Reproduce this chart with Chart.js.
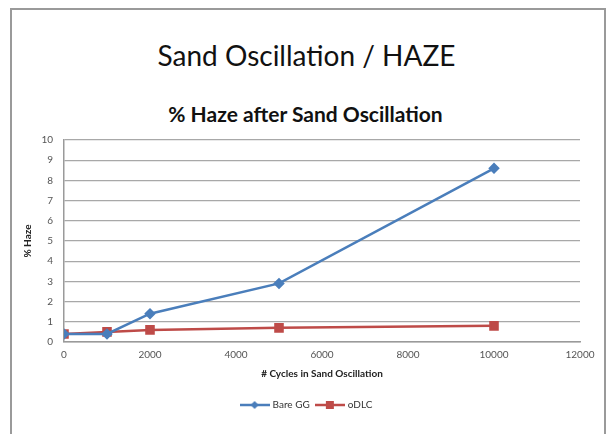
<!DOCTYPE html>
<html>
<head>
<meta charset="utf-8">
<script src="https://cdn.jsdelivr.net/npm/chart.js@4.4.1/dist/chart.umd.min.js"></script>
<style>
  html, body { margin: 0; padding: 0; background: #fff; }
  #frame { position: absolute; left: 10px; top: 8px; width: 596px; height: 450px; border: 2px solid #9a9a9a; border-bottom: none; box-sizing: border-box; }
  #wrap { position: absolute; left: 0; top: 0; width: 613px; height: 434px; }
  .head { position: absolute; left: 0; width: 613px; text-align: center; font-family: Lato, "Open Sans", sans-serif; color: #111; white-space: nowrap; }
  #mainTitle { top: 37px; height: 36px; line-height: 36px; font-size: 28px; }
  #chartTitle { top: 101px; height: 26px; line-height: 26px; font-size: 21px; font-weight: bold; left: -1px; }
</style>
</head>
<body>
<div id="frame"></div>
<div id="mainTitle" class="head">Sand Oscillation / HAZE</div>
<div id="chartTitle" class="head">% Haze after Sand Oscillation</div>
<div id="wrap"><canvas id="hazeChart" width="613" height="434"></canvas></div>
<script>
// --- Data ---
const cycles = [0, 1000, 2000, 5000, 10000];
const bareGG = [0.4, 0.4, 1.4, 2.9, 8.6];
const oDLC = [0.4, 0.5, 0.6, 0.7, 0.8];
const seriesNames = ['Bare GG', 'oDLC'];
const xTicks = [0, 2000, 4000, 6000, 8000, 10000, 12000];

const blue = '#4a7ebb';
const red = '#be4b48';
const font = 'Lato, "Open Sans", sans-serif';

// little line+marker swatches for the legend
function swatch(color, shape) {
    const c = document.createElement('canvas');
    c.width = 30; c.height = 10;
    const g = c.getContext('2d');
    g.strokeStyle = color; g.lineWidth = 2.5;
    g.beginPath(); g.moveTo(0, 5); g.lineTo(30, 5); g.stroke();
    g.fillStyle = color;
    if (shape === 'diamond') {
        g.beginPath(); g.moveTo(15, 1); g.lineTo(19, 5); g.lineTo(15, 9); g.lineTo(11, 5); g.closePath(); g.fill();
    } else {
        g.fillRect(11, 1, 8, 8);
    }
    return c;
}

const toPoints = (ys) => ys.map((y, i) => ({ x: cycles[i], y: y }));

// nudge the legend a bit right so it sits under the middle of the frame
const legendNudge = {
    id: 'legendNudge',
    afterLayout(chart) {
        chart.legend.left += 6;
        chart.legend.right += 6;
    }
};

new Chart(document.getElementById('hazeChart'), {
    type: 'line',
    data: {
        datasets: [
            { label: seriesNames[0], data: toPoints(bareGG), borderColor: blue, backgroundColor: blue, borderWidth: 2.5,
              pointStyle: 'rectRot', pointRadius: 4, pointHoverRadius: 4, tension: 0, legendImg: swatch(blue, 'diamond') },
            { label: seriesNames[1], data: toPoints(oDLC), borderColor: red, backgroundColor: red, borderWidth: 2.5,
              pointStyle: 'rect', pointRadius: 5, pointHoverRadius: 5, tension: 0, legendImg: swatch(red, 'square') }
        ]
    },
    plugins: [legendNudge],
    options: {
        responsive: false,
        animation: false,
        layout: { padding: { left: 22, right: 33, top: 140, bottom: 14 } },
        scales: {
            x: {
                type: 'linear', min: 0, max: 12000,
                afterBuildTicks: (axis) => { axis.ticks = xTicks.map(v => ({ value: v })); },
                grid: { display: false, drawTicks: false },
                border: { color: '#9a9a9a', width: 1.5 },
                ticks: { color: '#555', font: { family: font, size: 10 }, padding: 7, callback: (v) => String(v) },
                title: { display: true, text: '# Cycles in Sand Oscillation', color: '#222', font: { family: font, size: 10, weight: 'bold' }, padding: { top: 0, bottom: 13 } }
            },
            y: {
                min: 0, max: 10,
                afterFit: (axis) => { axis.width = 42; },
                ticks: { stepSize: 1, color: '#555', font: { family: font, size: 10 }, padding: 11 },
                grid: { color: '#a8a8a8', lineWidth: 1.3, drawTicks: false },
                border: { color: '#9a9a9a', width: 1.5 },
                title: { display: true, text: '% Haze', color: '#222', font: { family: font, size: 10, weight: 'bold' }, padding: { top: 0, bottom: 0 } }
            }
        },
        plugins: {
            legend: {
                position: 'bottom',
                labels: {
                    usePointStyle: true, pointStyleWidth: 26, boxHeight: 10, color: '#333', font: { family: font, size: 10 }, padding: 7,
                    generateLabels: (chart) => chart.data.datasets.map((d, i) => ({
                        text: d.label, pointStyle: d.legendImg, fillStyle: d.borderColor, strokeStyle: d.borderColor,
                        lineWidth: 0, datasetIndex: i, hidden: false, fontColor: '#333'
                    }))
                }
            },
            tooltip: { enabled: false }
        }
    }
});
</script>
</body>
</html>
